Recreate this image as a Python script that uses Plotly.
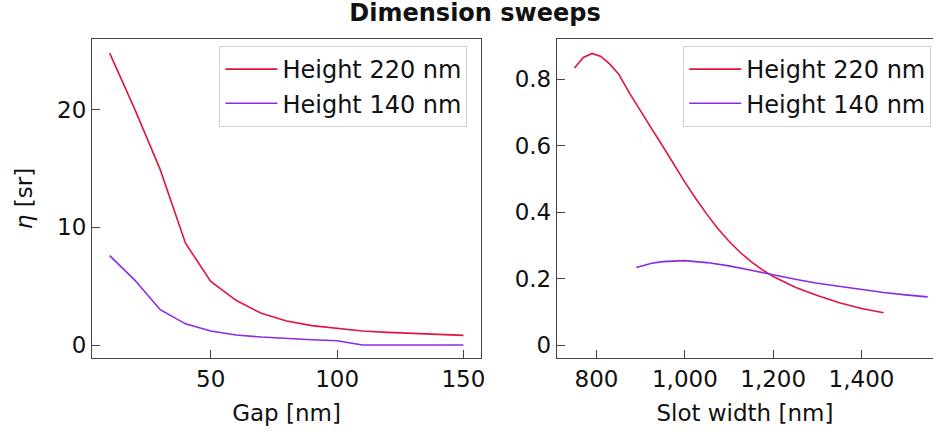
import plotly.graph_objects as go
from plotly.subplots import make_subplots

# Left panel: gap sweep
gap_nm = [10, 20, 30, 40, 50, 60, 70, 80, 90, 100, 110, 120, 130, 140, 150]
gap_h220 = [24.8, 20.0, 14.9, 8.65, 5.4, 3.8, 2.7, 2.05, 1.65, 1.4, 1.2, 1.08, 0.98, 0.9, 0.82]
gap_h140 = [7.6, 5.5, 3.0, 1.8, 1.2, 0.85, 0.68, 0.55, 0.45, 0.37, 0.0, 0.0, 0.0, 0.0, 0.0]

# Right panel: slot width sweep
slot_h220_x = [750, 770, 790, 810, 830, 850, 875, 900, 925, 950, 975, 1000, 1025,
               1050, 1075, 1100, 1125, 1150, 1175, 1200, 1250, 1300, 1350, 1400, 1450]
slot_h220_y = [0.833, 0.865, 0.877, 0.868, 0.845, 0.815, 0.757, 0.702, 0.65, 0.598, 0.543, 0.49, 0.44,
               0.393, 0.35, 0.312, 0.279, 0.251, 0.227, 0.206, 0.174, 0.149, 0.127, 0.11, 0.097]
slot_h140_x = [890, 925, 950, 1000, 1050, 1100, 1150, 1200, 1250, 1300, 1350, 1400, 1450, 1500, 1550]
slot_h140_y = [0.233, 0.246, 0.251, 0.254, 0.248, 0.238, 0.225, 0.211, 0.198, 0.186, 0.176,
               0.167, 0.158, 0.151, 0.145]

series_names = ["Height 220 nm", "Height 140 nm"]
colors = ["#e0143f", "#8a2be2"]

FONT = "DejaVu Sans"

fig = make_subplots(rows=1, cols=2, horizontal_spacing=0.09)

fig.add_trace(go.Scatter(x=gap_nm, y=gap_h220, mode="lines", name=series_names[0],
                         line=dict(color=colors[0], width=1.6), legend="legend"), row=1, col=1)
fig.add_trace(go.Scatter(x=gap_nm, y=gap_h140, mode="lines", name=series_names[1],
                         line=dict(color=colors[1], width=1.6), legend="legend"), row=1, col=1)
fig.add_trace(go.Scatter(x=slot_h220_x, y=slot_h220_y, mode="lines", name=series_names[0],
                         line=dict(color=colors[0], width=1.6), legend="legend2"), row=1, col=2)
fig.add_trace(go.Scatter(x=slot_h140_x, y=slot_h140_y, mode="lines", name=series_names[1],
                         line=dict(color=colors[1], width=1.6), legend="legend2"), row=1, col=2)

axis_common = dict(showgrid=False, zeroline=False, showline=True, linecolor="#444",
                   linewidth=1, ticks="inside", ticklen=8, tickcolor="#444",
                   tickfont=dict(size=23, color="#111"), title_font=dict(size=23, color="#111"))

fig.update_xaxes(**axis_common)
fig.update_yaxes(**axis_common)

legend_common = dict(xanchor="left", yanchor="top", bgcolor="white", itemwidth=52,
                     bordercolor="#d0d0d0", borderwidth=1, font=dict(size=24, color="#111"),
                     tracegroupgap=0)

fig.update_layout(
    xaxis=dict(domain=[0, 0.4627], range=[3, 157], tickvals=[50, 100, 150], mirror=True,
               title=dict(text="Gap [nm]", standoff=14)),
    yaxis=dict(range=[-1.1, 26], tickvals=[0, 10, 20], mirror=True,
               title=dict(text="<i>η</i> [sr]", standoff=18)),
    xaxis2=dict(domain=[0.5527, 1], range=[710, 1562], tickvals=[800, 1000, 1200, 1400],
                tickformat=",", mirror=True,
                title=dict(text="Slot width [nm]", standoff=14)),
    yaxis2=dict(range=[-0.039, 0.9205], tickvals=[0, 0.2, 0.4, 0.6, 0.8], mirror=False),
    legend=dict(x=0.1515, y=0.978, **legend_common),
    legend2=dict(x=0.703, y=0.978, **legend_common),
    title=dict(text="<b>Dimension sweeps</b>", x=0.507, xanchor="center", y=0.99, yanchor="top",
               font=dict(size=24, color="#111")),
    font=dict(family=FONT, color="#111"),
    width=937, height=438,
    margin=dict(l=92, r=0, t=39, b=80),
    plot_bgcolor="white", paper_bgcolor="white",
)

fig.write_html("out.html")
